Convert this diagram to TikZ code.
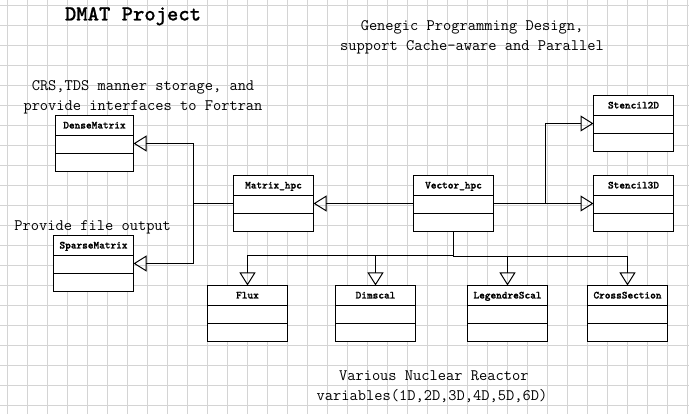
\documentclass[tikz,border=0pt]{standalone}
\usepackage{fontspec}
\usetikzlibrary{arrows.meta}
\newfontfamily\hdrfont{lmmonolt10-bold.otf}[FakeBold=1.2]
\newfontfamily\titlefont{lmmonolt10-bold.otf}[FakeBold=0.6]
\definecolor{gridc}{RGB}{212,212,212}
\tikzset{
  cls/.style={draw=black, line width=1pt, fill=white, minimum width=80pt, minimum height=56pt, inner sep=0pt, outer sep=0pt},
  hdr/.style={font=\fontsize{10.8}{12}\selectfont\hdrfont, anchor=base, inner sep=0pt},
  txt/.style={font=\fontsize{16}{19}\selectfont\ttfamily, anchor=base, inner sep=0pt},
  conn/.style={line width=1pt, draw=black},
  inh/.style={conn, -{Triangle[open, length=13pt, width=16pt]}},
  gridline/.style={draw=gridc, line width=1pt},
}
\newcommand\umlclass[5][]{%
  \node[cls,#1] (#2) at (#3,#4) {};
  \node[hdr] (#2-l) at ([yshift=-13pt]#2.north) {#5};
  \draw[conn] ([yshift=-20pt]#2.north west) -- ([yshift=-20pt]#2.north east);
  \draw[conn] ([yshift=-38pt]#2.north west) -- ([yshift=-38pt]#2.north east);
}
\begin{document}
\begin{tikzpicture}[x=1pt, y=-1pt]
\useasboundingbox (0,0) rectangle (689,414);
\fill[white] (0,0) rectangle (689,414);
\foreach \gx in {0,...,34} \draw[gridline] ({7.5+20*\gx},0) -- ({7.5+20*\gx},414);
\foreach \gy in {0,...,20} \draw[gridline] (0,{5.5+20*\gy}) -- (689,{5.5+20*\gy});

% texts
\node[txt, font=\fontsize{21.6}{26}\selectfont\titlefont] (title) at (133,20.5) {DMAT Project};
\node[txt] (g1) at (472,30.5) {Genegic Programming Design,};
\node[txt] (g2) at (472,50.5) {support Cache-aware and Parallel};
\node[txt] (c1) at (143,90.5) {CRS,TDS manner storage, and};
\node[txt] (c2) at (143,110.5) {provide interfaces to Fortran};
\node[txt] (p1) at (92.7,230.3) {Provide file output};
\node[txt] (v1) at (433.8,380.3) {Various Nuclear Reactor};
\node[txt] (v2) at (432,400.3) {variables(1D,2D,3D,4D,5D,6D)};

% classes
\umlclass[minimum width=78pt]{dm}{94.5}{143.5}{DenseMatrix}
\umlclass{sm}{93.5}{263.5}{SparseMatrix}
\umlclass{mh}{273.5}{203.5}{Matrix\_hpc}
\umlclass{vh}{453.5}{203.5}{Vector\_hpc}
\umlclass{s2}{633.5}{123.5}{Stencil2D}
\umlclass{s3}{633.5}{203.5}{Stencil3D}
\umlclass{fx}{247.5}{313.5}{Flux}
\umlclass{ds}{375.5}{313.5}{Dimscal}
\umlclass{ls}{507.5}{313.5}{LegendreScal}
\umlclass{cs}{627.5}{313.5}{CrossSection}

% connectors
\coordinate (mj) at (193.5,203.5);
\coordinate (vj) at (545.5,203.5);
\coordinate (vb) at (453.5,255.5);
\coordinate (vb2) at (453.5,257);

\draw[inh] (vh.west) -- (mh.east);
\draw[conn] (mh.west) -- (mj);
\draw[inh] (mj) |- (dm.east);
\draw[inh] (mj) |- (sm.east);
\draw[inh] (vh.east) -- (s3.west);
\draw[inh] (vj) |- (s2.west);
\draw[conn] (vh.south) -- (vb2);
\draw[inh] (vb) -| (fx.north);
\draw[inh] (vb) -| (ds.north);
\draw[inh] (vb2) -| (ls.north);
\draw[inh] (vb2) -| (cs.north);
\end{tikzpicture}
\end{document}
